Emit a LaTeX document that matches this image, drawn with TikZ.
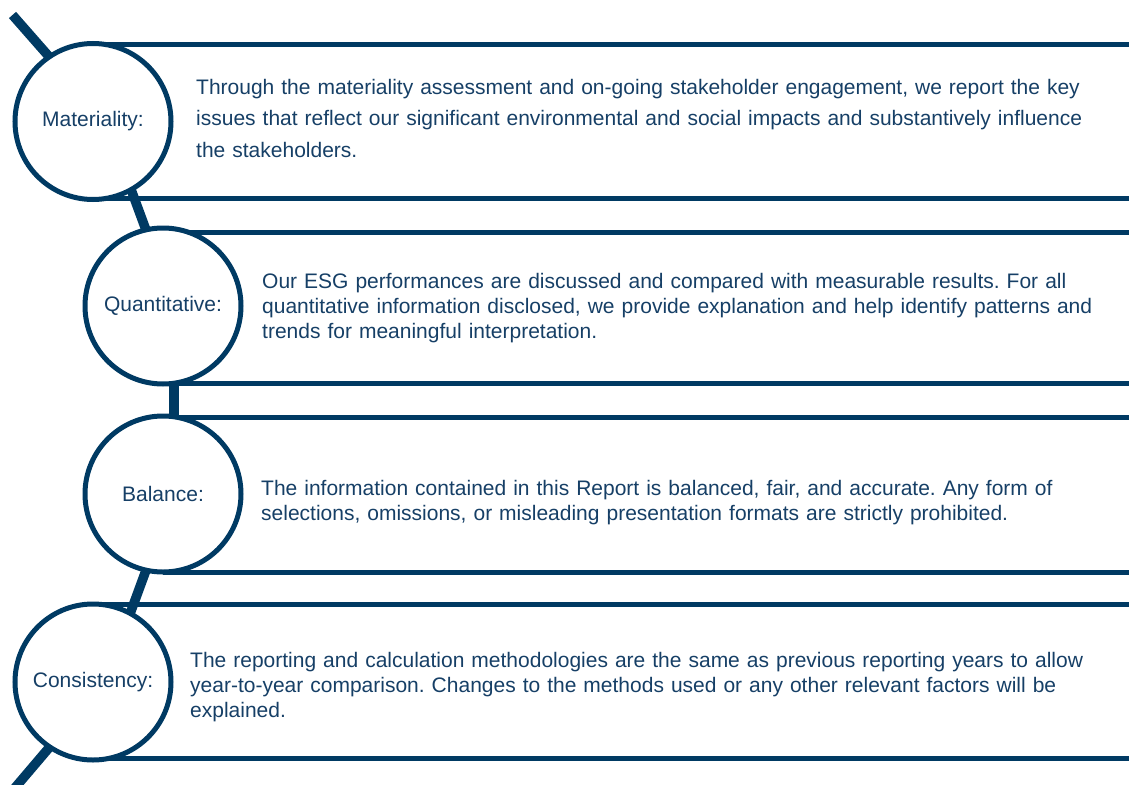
\documentclass[tikz,border=0pt]{standalone}
\usepackage{fontspec}
\setmainfont{Liberation Sans}
\frenchspacing
\definecolor{navy}{HTML}{003A63}
\definecolor{navytext}{HTML}{163F66}
\begin{document}
\begin{tikzpicture}[x=1pt,y=-1pt,
  ring/.style={circle, draw=navy, line width=5pt, fill=white, minimum size=156pt, inner sep=0pt,
    text=navytext, font=\fontsize{21}{25}\selectfont},
  link/.style={draw=navy, line width=9.5pt},
  rule/.style={draw=navy, line width=5pt},
  body/.style={anchor=base west, inner sep=0pt, text width=950pt, align=left, text=navytext}]
\useasboundingbox (0,0) rectangle (1129,784);
\clip (0,0) rectangle (1129,784);
% centres
\coordinate (p1) at (93,121.5);
\coordinate (p2) at (163,306);
\coordinate (p3) at (163,494);
\coordinate (p4) at (93,682);
% connector anchor points (slightly right of the centres)
\coordinate (a1) at (106,121.5);
\coordinate (a2) at (174,306);
\coordinate (a3) at (174,494);
\coordinate (a4) at (105,682);
\coordinate (tl) at (12.5,15);
\coordinate (bl) at (8,796);
% connectors
\draw[link] (tl) -- (a1);
\draw[link] (a1) -- (a2);
\draw[link] (a2) -- (a3);
\draw[link] (a3) -- (a4);
\draw[link] (a4) -- (bl);
% box rules
\coordinate (r1a) at (1129,44.5);  \coordinate (r1b) at (1129,198.5);
\coordinate (r2a) at (1129,232);   \coordinate (r2b) at (1129,383.5);
\coordinate (r3a) at (1129,417);   \coordinate (r3b) at (1129,572);
\coordinate (r4a) at (1129,604);   \coordinate (r4b) at (1129,758);
\draw[rule] (p1 |- r1a) -- (r1a);
\draw[rule] (p1 |- r1b) -- (r1b);
\draw[rule] (p2 |- r2a) -- (r2a);
\draw[rule] (p2 |- r2b) -- (r2b);
\draw[rule] (p3 |- r3a) -- (r3a);
\draw[rule] (p3 |- r3b) -- (r3b);
\draw[rule] (p4 |- r4a) -- (r4a);
\draw[rule] (p4 |- r4b) -- (r4b);
% circles
\node[ring] (m) at (p1) {Materiality:};
\node[ring] (q) at (p2) {Quantitative:};
\node[ring] (b) at (p3) {Balance:};
\node[ring] (c) at (p4) {Consistency:};
% texts
\node[body, font=\fontsize{21}{31.5}\selectfont] (t1) at (196,94)
  {Through the materiality assessment and on-going stakeholder engagement, we report the key\\
   issues that reflect our significant environmental and social impacts and substantively influence\\
   the stakeholders.};
\node[body, font=\fontsize{21}{25}\selectfont] (t2) at (262,288)
  {Our ESG performances are discussed and compared with measurable results. For all\\
   quantitative information disclosed, we provide explanation and help identify patterns and\\
   trends for meaningful interpretation.};
\node[body, font=\fontsize{21}{25}\selectfont] (t3) at (261,495)
  {The information contained in this Report is balanced, fair, and accurate. Any form of\\
   selections, omissions, or misleading presentation formats are strictly prohibited.};
\node[body, font=\fontsize{21}{25}\selectfont] (t4) at (190,667)
  {The reporting and calculation methodologies are the same as previous reporting years to allow\\
   year-to-year comparison. Changes to the methods used or any other relevant factors will be\\
   explained.};
\end{tikzpicture}
\end{document}
